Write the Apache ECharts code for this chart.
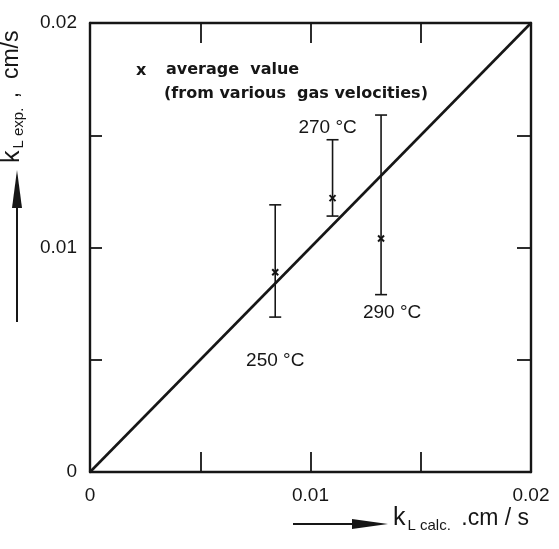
<!DOCTYPE html>
<html>
<head>
<meta charset="utf-8">
<script src="https://cdn.jsdelivr.net/npm/echarts@6/dist/echarts.min.js"></script>
<style>
  html, body { margin: 0; padding: 0; background: #fff; }
  #chart { width: 559px; height: 549px; }
</style>
</head>
<body>
<div id="chart"></div>
<script>
// Mass-transfer coefficient: measured vs. calculated (cm/s)
const temperatures = ['250 °C', '270 °C', '290 °C'];
const kCalc  = [0.0084, 0.0110, 0.0132];   // x: calculated k_L
const kMean  = [0.0089, 0.0122, 0.0104];   // average measured k_L
const kLow   = [0.0069, 0.0114, 0.0079];   // lower end of measured range
const kHigh  = [0.0119, 0.0148, 0.0159];   // upper end of measured range
const parityLine = [[0, 0], [0.02, 0.02]];
const tickLabels = { 0: '0', 0.01: '0.01', 0.02: '0.02' };

// label placement around each range bar: [dx, dy, anchor end ('low'/'high')]
const labelPlacement = [[0, 44, 'low'], [-5, -12, 'high'], [11, 18, 'low']];

const INK = '#161616';
const FONT = 'Liberation Sans, Arial, sans-serif';
const NOTE_FONT = 'bold 16px DejaVu Sans, sans-serif';

function fmtTick(v) {
  const key = Math.round(v * 1000) / 1000;
  return (key in tickLabels) ? tickLabels[key] : '';
}

const axisCommon = {
  type: 'value', min: 0, max: 0.02, interval: 0.005,
  axisLine: { show: true, onZero: false, lineStyle: { color: INK, width: 2.4 } },
  splitLine: { show: false }
};

const chart = echarts.init(document.getElementById('chart'), null, { renderer: 'canvas' });

chart.setOption({
  backgroundColor: '#fff',
  animation: false,
  grid: { left: 90, right: 28, top: 23, bottom: 77 },
  xAxis: [
    Object.assign({}, axisCommon, {
      position: 'bottom',
      axisTick: { inside: true, length: 20, lineStyle: { color: INK, width: 1.8 } },
      axisLabel: { formatter: fmtTick, color: INK, fontSize: 19, fontFamily: FONT, margin: 14 }
    }),
    Object.assign({}, axisCommon, {
      position: 'top',
      axisTick: { inside: true, length: 20, lineStyle: { color: INK, width: 1.8 } },
      axisLabel: { show: false }
    })
  ],
  yAxis: [
    Object.assign({}, axisCommon, {
      position: 'left',
      axisTick: { inside: true, length: 12, lineStyle: { color: INK, width: 1.8 } },
      axisLabel: { formatter: fmtTick, color: INK, fontSize: 19, fontFamily: FONT, margin: 13 }
    }),
    Object.assign({}, axisCommon, {
      position: 'right',
      axisTick: { inside: true, length: 14, lineStyle: { color: INK, width: 1.8 } },
      axisLabel: { show: false }
    })
  ],
  series: [
    {
      type: 'line',
      data: parityLine,
      symbol: 'none',
      lineStyle: { color: INK, width: 2.6 },
      z: 3
    },
    {
      type: 'custom',
      data: kCalc.map((x, i) => [x, kMean[i], kLow[i], kHigh[i], i]),
      z: 4,
      renderItem: function (params, api) {
        const x = api.value(0);
        const i = api.value(4);
        const pMean = api.coord([x, api.value(1)]);
        const pLow = api.coord([x, api.value(2)]);
        const pHigh = api.coord([x, api.value(3)]);
        const cap = 6, m = 3;
        const st = { stroke: INK, lineWidth: 1.6 };
        const pl = labelPlacement[i];
        const anchor = pl[2] === 'low' ? pLow : pHigh;
        return {
          type: 'group',
          children: [
            { type: 'line', shape: { x1: pLow[0], y1: pLow[1], x2: pHigh[0], y2: pHigh[1] }, style: st },
            { type: 'line', shape: { x1: pLow[0] - cap, y1: pLow[1], x2: pLow[0] + cap, y2: pLow[1] }, style: st },
            { type: 'line', shape: { x1: pHigh[0] - cap, y1: pHigh[1], x2: pHigh[0] + cap, y2: pHigh[1] }, style: st },
            { type: 'line', shape: { x1: pMean[0] - m, y1: pMean[1] - m, x2: pMean[0] + m, y2: pMean[1] + m }, style: { stroke: INK, lineWidth: 2 } },
            { type: 'line', shape: { x1: pMean[0] - m, y1: pMean[1] + m, x2: pMean[0] + m, y2: pMean[1] - m }, style: { stroke: INK, lineWidth: 2 } },
            {
              type: 'text',
              style: {
                x: anchor[0] + pl[0], y: anchor[1] + pl[1],
                text: temperatures[i],
                fill: INK, font: '19px ' + FONT,
                align: 'center', verticalAlign: 'middle'
              }
            }
          ]
        };
      }
    }
  ],
  graphic: [
    // legend note
    { type: 'text', left: 136, top: 63, style: { text: 'x', fill: INK, font: NOTE_FONT } },
    { type: 'text', left: 166, top: 62, style: { text: 'average  value', fill: INK, font: NOTE_FONT } },
    { type: 'text', left: 164, top: 86, style: { text: '(from various  gas velocities)', fill: INK, font: NOTE_FONT } },

    // x-axis title with arrow
    { type: 'line', shape: { x1: 293, y1: 524, x2: 360, y2: 524 }, style: { stroke: INK, lineWidth: 2 } },
    { type: 'polygon', shape: { points: [[352, 519], [388, 524], [352, 529]] }, style: { fill: INK } },
    {
      type: 'text', left: 393, top: 506,
      style: {
        text: '{k|k}{s|L calc.}{u| .cm / s}',
        rich: {
          k: { fontSize: 25, fontFamily: FONT, fill: INK },
          s: { fontSize: 15, fontFamily: FONT, fill: INK, padding: [14, 4, 0, 2] },
          u: { fontSize: 23, fontFamily: FONT, fill: INK }
        }
      }
    },

    // y-axis title with arrow
    { type: 'line', shape: { x1: 17, y1: 322, x2: 17, y2: 200 }, style: { stroke: INK, lineWidth: 2 } },
    { type: 'polygon', shape: { points: [[12, 208], [17, 170], [22, 208]] }, style: { fill: INK } },
    {
      type: 'text', x: 12, y: 163, rotation: Math.PI / 2,
      style: {
        text: '{k|k}{s|L exp.}{u| ,  cm/s}',
        align: 'left', verticalAlign: 'middle',
        rich: {
          k: { fontSize: 25, fontFamily: FONT, fill: INK },
          s: { fontSize: 15, fontFamily: FONT, fill: INK, padding: [14, 3, 0, 2] },
          u: { fontSize: 23, fontFamily: FONT, fill: INK }
        }
      }
    }
  ]
});
</script>
</body>
</html>
